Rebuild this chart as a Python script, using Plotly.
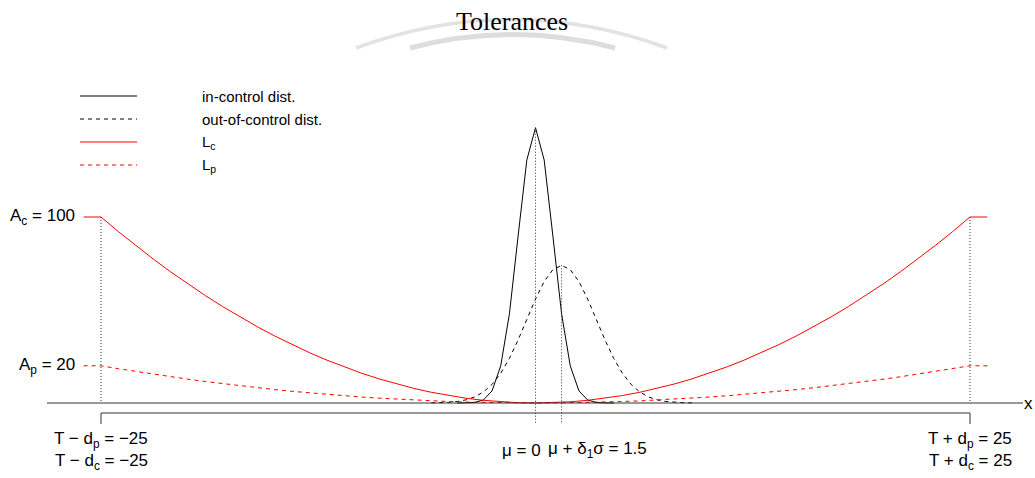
import plotly.graph_objects as go

# Tolerance / loss-function parameters
T = 0
d_c = 25
d_p = 25
A_c = 100
A_p = 20
mu = 0
shift = 1.5  # delta_1 * sigma

# Quadratic loss curves (capped at A outside the tolerance limits)
x_loss = [-26, -25, -24, -23, -22, -21, -20, -19, -18, -17, -16, -15, -14, -13,
          -12, -11, -10, -9, -8, -7, -6, -5, -4, -3, -2, -1, 0,
          1, 2, 3, 4, 5, 6, 7, 8, 9, 10, 11, 12, 13, 14, 15, 16, 17, 18, 19,
          20, 21, 22, 23, 24, 25, 26]
loss_c = [100, 100, 92.16, 84.64, 77.44, 70.56, 64.0, 57.76, 51.84, 46.24, 40.96,
          36.0, 31.36, 27.04, 23.04, 19.36, 16.0, 12.96, 10.24, 7.84, 5.76, 4.0,
          2.56, 1.44, 0.64, 0.16, 0.0,
          0.16, 0.64, 1.44, 2.56, 4.0, 5.76, 7.84, 10.24, 12.96, 16.0, 19.36,
          23.04, 27.04, 31.36, 36.0, 40.96, 46.24, 51.84, 57.76, 64.0, 70.56,
          77.44, 84.64, 92.16, 100, 100]
loss_p = [20, 20, 18.43, 16.93, 15.49, 14.11, 12.8, 11.55, 10.37, 9.25, 8.19,
          7.2, 6.27, 5.41, 4.61, 3.87, 3.2, 2.59, 2.05, 1.57, 1.15, 0.8,
          0.51, 0.29, 0.13, 0.03, 0.0,
          0.03, 0.13, 0.29, 0.51, 0.8, 1.15, 1.57, 2.05, 2.59, 3.2, 3.87,
          4.61, 5.41, 6.27, 7.2, 8.19, 9.25, 10.37, 11.55, 12.8, 14.11,
          15.49, 16.93, 18.43, 20, 20]

# Process distributions (scaled to the loss axis)
x_in = [-4.5, -4.0, -3.5, -3.0, -2.5, -2.0, -1.5, -1.0, -0.5, 0.0,
        0.5, 1.0, 1.5, 2.0, 2.5, 3.0, 3.5, 4.0, 4.5]
dens_in = [0.0, 0.05, 0.3, 1.6, 6.5, 20.0, 48.0, 89.8, 130.6, 148.0,
           130.6, 89.8, 48.0, 20.0, 6.5, 1.6, 0.3, 0.05, 0.0]
x_out = [-6.0, -5.5, -5.0, -4.5, -4.0, -3.5, -3.0, -2.5, -2.0, -1.5, -1.0,
         -0.5, 0.0, 0.5, 1.0, 1.5, 2.0, 2.5, 3.0, 3.5, 4.0, 4.5, 5.0, 5.5,
         6.0, 6.5, 7.0, 7.5, 8.0, 8.5, 9.0]
dens_out = [0.07, 0.16, 0.38, 0.82, 1.69, 3.25, 5.9, 10.0, 16.0, 24.0, 33.9,
            44.9, 55.9, 65.3, 71.7, 74.0, 71.7, 65.3, 55.9, 44.9, 33.9, 24.0,
            16.0, 10.0, 5.9, 3.25, 1.69, 0.82, 0.38, 0.16, 0.07]

legend_labels = ["in-control dist.", "out-of-control dist.",
                 "L<sub>c</sub>", "L<sub>p</sub>"]
legend_styles = [("black", "solid"), ("black", "4px,4px"),
                 ("red", "solid"), ("red", "4px,4px")]

# Plot area fills the whole page; helpers convert page pixels to data units
W, H = 1035, 478
X0_PX, XS = 535.5, 17.38
Y0_PX, YS = 403.0, 1.86


def px_x(p):
    return (p - X0_PX) / XS


def px_y(p):
    return (Y0_PX - p) / YS


SANS = "Liberation Sans, Arial, sans-serif"
SERIF = "Liberation Serif, Times New Roman, serif"
AXC = "#333333"
DOT = "1px,2px"

fig = go.Figure()
fig.add_trace(go.Scatter(x=x_in, y=dens_in, mode="lines",
                         line=dict(color="black", width=1), name=legend_labels[0]))
fig.add_trace(go.Scatter(x=x_out, y=dens_out, mode="lines",
                         line=dict(color="black", width=1, dash="4px,4px"),
                         name=legend_labels[1]))
fig.add_trace(go.Scatter(x=x_loss, y=loss_c, mode="lines",
                         line=dict(color="red", width=1), name=legend_labels[2]))
fig.add_trace(go.Scatter(x=x_loss, y=loss_p, mode="lines",
                         line=dict(color="red", width=1, dash="4px,4px"),
                         name=legend_labels[3]))

shapes = []
# Faint arcs behind the title
shapes.append(dict(type="path", layer="below",
                   path=f"M {px_x(356)},{px_y(48)} Q {px_x(511.5)},{px_y(-8.8)} {px_x(667)},{px_y(48)}",
                   line=dict(color="#e2e2e2", width=3.5)))
shapes.append(dict(type="path", layer="below",
                   path=f"M {px_x(410)},{px_y(48)} Q {px_x(512.5)},{px_y(21)} {px_x(615)},{px_y(48)}",
                   line=dict(color="#dddddd", width=5)))

# x axis line
shapes.append(dict(type="line", x0=px_x(47), x1=px_x(1023), y0=0, y1=0,
                   line=dict(color=AXC, width=1)))
# Tolerance bracket under the axis
yb, yt = px_y(413), px_y(424)
shapes.append(dict(type="line", x0=T - d_p, x1=T + d_p, y0=yb, y1=yb,
                   line=dict(color=AXC, width=1)))
for xv in (T - d_p, T + d_p):
    shapes.append(dict(type="line", x0=xv, x1=xv, y0=yb, y1=yt,
                       line=dict(color=AXC, width=1)))
    shapes.append(dict(type="line", x0=xv, x1=xv, y0=A_c, y1=0,
                       line=dict(color=AXC, width=1, dash=DOT)))
# Mean markers
shapes.append(dict(type="line", x0=mu, x1=mu, y0=max(dens_in), y1=yt,
                   line=dict(color=AXC, width=1, dash=DOT)))
shapes.append(dict(type="line", x0=mu + shift, x1=mu + shift, y0=max(dens_out), y1=yt,
                   line=dict(color=AXC, width=1, dash=DOT)))

annotations = []
# Legend
for i, (lab, (col, dsh)) in enumerate(zip(legend_labels, legend_styles)):
    yy = px_y(96 + 23 * i)
    shapes.append(dict(type="line", x0=px_x(80), x1=px_x(137), y0=yy, y1=yy,
                       line=dict(color=col, width=1, dash=dsh)))
    annotations.append(dict(x=px_x(200), y=yy, text=lab, showarrow=False,
                            xanchor="left", yanchor="middle",
                            font=dict(family=SANS, size=15, color="black")))

# Title
annotations.append(dict(x=px_x(511.5), y=px_y(21), text="Tolerances", showarrow=False,
                        xanchor="center", yanchor="middle",
                        font=dict(family=SERIF, size=26, color="black")))

lab_font = dict(family=SANS, size=17, color="black")
annotations.append(dict(x=px_x(77), y=A_c, text=f"A<sub>c</sub> = {A_c}", showarrow=False,
                        xanchor="right", yanchor="middle", font=lab_font))
annotations.append(dict(x=px_x(77), y=A_p, text=f"A<sub>p</sub> = {A_p}", showarrow=False,
                        xanchor="right", yanchor="middle", font=lab_font))
annotations.append(dict(x=px_x(1028), y=0, text="x", showarrow=False,
                        xanchor="center", yanchor="middle", font=lab_font))

for xv, sgn in ((T - d_p, "\u2212"), (T + d_p, "+")):
    val = f"\u2212{abs(xv)}" if xv < 0 else f"{xv}"
    annotations.append(dict(x=xv, y=px_y(440), text=f"T {sgn} d<sub>p</sub> = {val}",
                            showarrow=False, xanchor="center", yanchor="middle",
                            font=lab_font))
    annotations.append(dict(x=xv, y=px_y(462), text=f"T {sgn} d<sub>c</sub> = {val}",
                            showarrow=False, xanchor="center", yanchor="middle",
                            font=lab_font))

annotations.append(dict(x=mu, y=px_y(450), text=f"\u03bc = {mu}", showarrow=False,
                        xanchor="right", xshift=7, yanchor="middle", font=lab_font))
annotations.append(dict(x=mu + shift, y=px_y(450),
                        text=f"\u03bc + \u03b4<sub>1</sub>\u03c3 = {mu + shift}",
                        showarrow=False, xanchor="left", xshift=-16, yanchor="middle",
                        font=lab_font))

fig.update_layout(
    width=W, height=H, autosize=False,
    margin=dict(l=0, r=0, t=0, b=0),
    paper_bgcolor="white", plot_bgcolor="white",
    showlegend=False,
    xaxis=dict(range=[px_x(0), px_x(W)], visible=False, fixedrange=True),
    yaxis=dict(range=[px_y(H), px_y(0)], visible=False, fixedrange=True),
    shapes=shapes, annotations=annotations,
)

fig.write_html("out.html")
